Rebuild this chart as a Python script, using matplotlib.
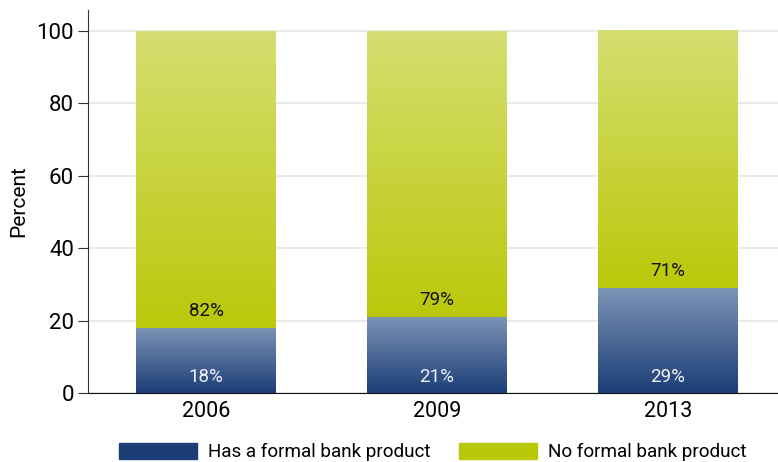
import matplotlib.pyplot as plt
import numpy as np
from matplotlib.colors import LinearSegmentedColormap
from matplotlib.patches import Patch

years = ["2006", "2009", "2013"]
has_bank = [18, 21, 29]
no_bank = [82, 79, 71]

plt.rcParams['font.family'] = ['Roboto', 'DejaVu Sans']

blue_dark, blue_light = "#1c3e77", "#7c94b6"
green_dark, green_light = "#bbc80a", "#d5de70"

fig = plt.figure(figsize=(7.78, 4.62), dpi=100)
ax = fig.add_axes([88/778, 1-393/462, 690/778, 383/462])

x = np.arange(len(years))
w = 0.606
b1 = ax.bar(x, has_bank, w, color=blue_dark, zorder=2)
b2 = ax.bar(x, no_bank, w, bottom=has_bank, color=green_dark, zorder=2)

# vertical gradient painted over each bar segment
grad = np.linspace(0, 1, 256).reshape(-1, 1)
cm_blue = LinearSegmentedColormap.from_list("b", [blue_dark, blue_light])
cm_green = LinearSegmentedColormap.from_list("g", [green_dark, green_light])
for bars, cm in [(b1, cm_blue), (b2, cm_green)]:
    for p in bars:
        x0, y0 = p.get_x(), p.get_y()
        ax.imshow(grad, cmap=cm, origin="lower", aspect="auto", zorder=3,
                  extent=[x0, x0 + p.get_width(), y0, y0 + p.get_height()])

for i in range(len(years)):
    ax.text(x[i], 4.3, f"{has_bank[i]}%", ha="center", va="center",
            fontsize=13.5, color="#eef1f6", zorder=4)
    ax.text(x[i], has_bank[i] + 4.6, f"{no_bank[i]}%", ha="center", va="center",
            fontsize=13.5, color="#111111", zorder=4)

ax.set_xlim(-0.511, 2.476)
ax.set_ylim(0, 105.8)
ax.set_yticks([0, 20, 40, 60, 80, 100])
ax.set_xticks(x)
ax.set_xticklabels(years)
ax.yaxis.grid(True, color="#e6e6e6", linewidth=1.2, zorder=0)
ax.set_axisbelow(True)
for s in ["top", "right"]:
    ax.spines[s].set_visible(False)
ax.spines["left"].set_color("#333333")
ax.spines["bottom"].set_color("#111111")
ax.tick_params(axis="y", length=7, color="#333333", labelsize=16, pad=3)
ax.tick_params(axis="x", length=0, labelsize=15.5, pad=6)
ax.set_ylabel("Percent", fontsize=15, labelpad=6)

handles = [Patch(color=blue_dark, label="Has a formal bank product"),
           Patch(color=green_dark, label="No formal bank product")]
fig.legend(handles=handles, loc="center", bbox_to_anchor=(433/778, 1-452/462),
           ncol=2, frameon=False, fontsize=13.6, handlelength=4.1, handleheight=1.0,
           handletextpad=0.62, columnspacing=1.5)

fig.savefig("out.png", dpi=100)
